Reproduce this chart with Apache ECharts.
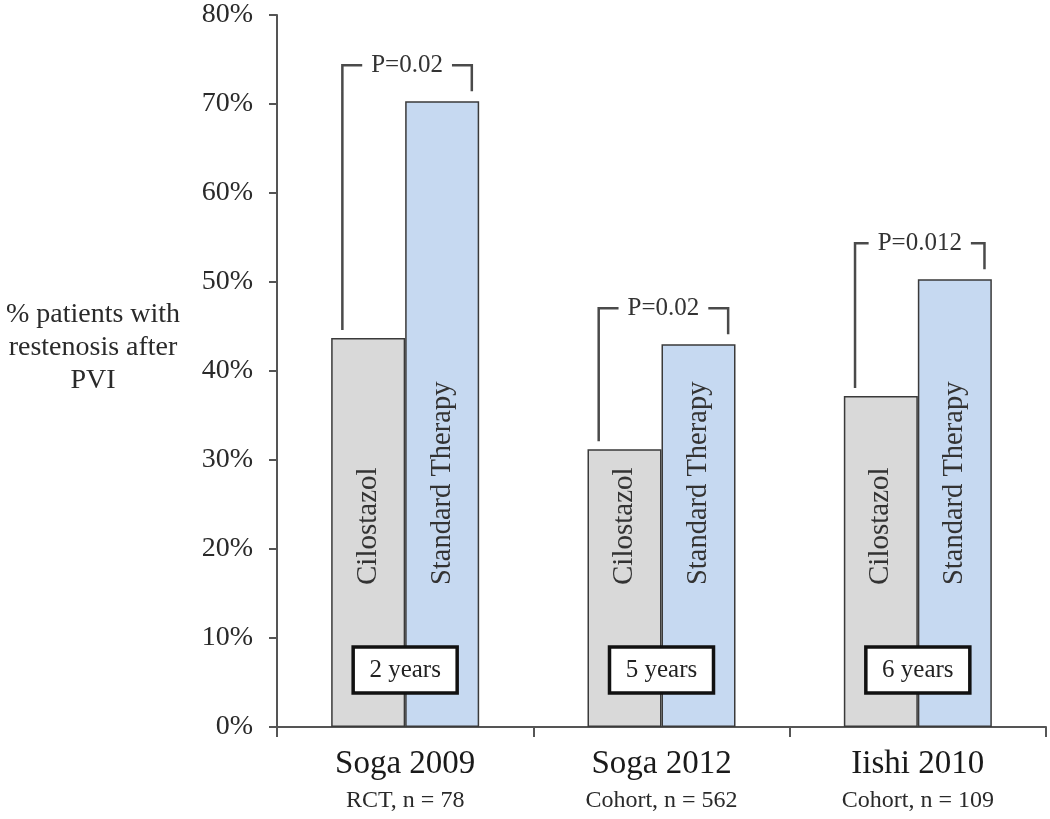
<!DOCTYPE html>
<html>
<head>
<meta charset="utf-8">
<script src="https://cdn.jsdelivr.net/npm/echarts@6/dist/echarts.min.js"></script>
<style>html,body{margin:0;padding:0;background:#fff}#c{width:1050px;height:819px}</style>
</head>
<body>
<div id="c"></div>
<script>
const categories = ['Soga 2009', 'Soga 2012', 'Iishi 2010'];
const subtitles = ['RCT, n = 78', 'Cohort, n = 562', 'Cohort, n = 109'];
const cilostazol = [43.7, 31.2, 37.2];
const standardTherapy = [70.3, 43.0, 50.3];
const pValues = ['P=0.02', 'P=0.02', 'P=0.012'];
const durations = ['2 years', '5 years', '6 years'];
const yTicks = [0, 10, 20, 30, 40, 50, 60, 70, 80];

const SERIF = '"Liberation Serif", "Times New Roman", serif';
const chart = echarts.init(document.getElementById('c'), null, {renderer: 'canvas'});

const annData = categories.map((c, i) => [i, cilostazol[i], standardTherapy[i]]);

chart.setOption({
  animation: false,
  backgroundColor: '#fff',
  grid: {left: 277, right: 4, top: 15, bottom: 92, containLabel: false},
  graphic: [{
    type: 'text',
    x: 93, y: 348,
    style: {
      text: '% patients with\nrestenosis after\nPVI',
      fontFamily: SERIF, fontSize: 28, lineHeight: 33,
      textAlign: 'center', textVerticalAlign: 'middle', fill: '#2a2a2a'
    }
  }],
  xAxis: {
    type: 'category',
    data: categories,
    axisLine: {lineStyle: {color: '#555', width: 2}},
    axisTick: {show: true, length: 10, lineStyle: {color: '#555', width: 2}},
    axisLabel: {
      margin: 17,
      formatter: (v, i) => `{a|${v}}\n{b|${subtitles[i]}}`,
      rich: {
        a: {fontFamily: SERIF, fontSize: 33, lineHeight: 40, color: '#1a1a1a'},
        b: {fontFamily: SERIF, fontSize: 24, lineHeight: 34, color: '#2a2a2a'}
      }
    }
  },
  yAxis: {
    type: 'value',
    min: 0, max: 80, interval: 10,
    axisLine: {show: true, lineStyle: {color: '#555', width: 2}},
    axisTick: {show: true, inside: false, length: 8, lineStyle: {color: '#555', width: 2}},
    splitLine: {show: false},
    axisLabel: {
      margin: 24,
      formatter: v => yTicks.includes(v) ? v + '%' : '',
      fontFamily: SERIF, fontSize: 28, color: '#2a2a2a'
    }
  },
  series: [
    {
      name: 'Cilostazol', type: 'bar', data: cilostazol,
      barWidth: 74, barGap: '0%',
      itemStyle: {color: '#d9d9d9', borderColor: '#3a3a3a', borderWidth: 1.5},
      label: {
        show: true, formatter: 'Cilostazol', position: 'insideBottom', distance: 142,
        rotate: 90, align: 'left', verticalAlign: 'middle',
        fontFamily: SERIF, fontSize: 29, color: '#333'
      }
    },
    {
      name: 'Standard Therapy', type: 'bar', data: standardTherapy,
      barWidth: 74, barGap: '0%',
      itemStyle: {color: '#c6d9f1', borderColor: '#3a3a3a', borderWidth: 1.5},
      label: {
        show: true, formatter: 'Standard Therapy', position: 'insideBottom', distance: 142,
        rotate: 90, align: 'left', verticalAlign: 'middle',
        fontFamily: SERIF, fontSize: 28.5, color: '#333'
      }
    },
    {
      type: 'custom',
      data: annData,
      z: 10,
      renderItem: function (params, api) {
        const i = api.value(0);
        const cTop = api.coord([i, api.value(1)]);
        const sTop = api.coord([i, api.value(2)]);
        const base = api.coord([i, 0]);
        const bw = api.size([1, 0])[0];
        const cx = base[0];
        const lx = cx - bw * 0.245;
        const rx = cx + bw * 0.26;
        const ty = Math.min(cTop[1], sTop[1]) - 36;
        const ly = cTop[1] - 8;
        const ry = sTop[1] - 10;
        const boxW = 104, boxH = 46, boxCy = base[1] - 57;
        return {
          type: 'group',
          children: [
            {
              type: 'polyline',
              shape: {points: [[lx, ly], [lx, ty], [rx, ty], [rx, ry]]},
              style: {stroke: '#4a4a4a', lineWidth: 2.5, fill: null}
            },
            {
              type: 'text',
              x: (lx + rx) / 2, y: ty,
              style: {
                text: pValues[params.dataIndex],
                fontFamily: SERIF, fontSize: 25, fill: '#333',
                textAlign: 'center', textVerticalAlign: 'middle',
                backgroundColor: '#fff', padding: [0, 9]
              }
            },
            {
              type: 'rect',
              shape: {x: cx - boxW / 2, y: boxCy - boxH / 2, width: boxW, height: boxH},
              style: {fill: '#fff', stroke: '#111', lineWidth: 3.5}
            },
            {
              type: 'text',
              x: cx, y: boxCy,
              style: {
                text: durations[params.dataIndex],
                fontFamily: SERIF, fontSize: 25, fill: '#222',
                textAlign: 'center', textVerticalAlign: 'middle'
              }
            }
          ]
        };
      }
    }
  ]
});
</script>
</body>
</html>
